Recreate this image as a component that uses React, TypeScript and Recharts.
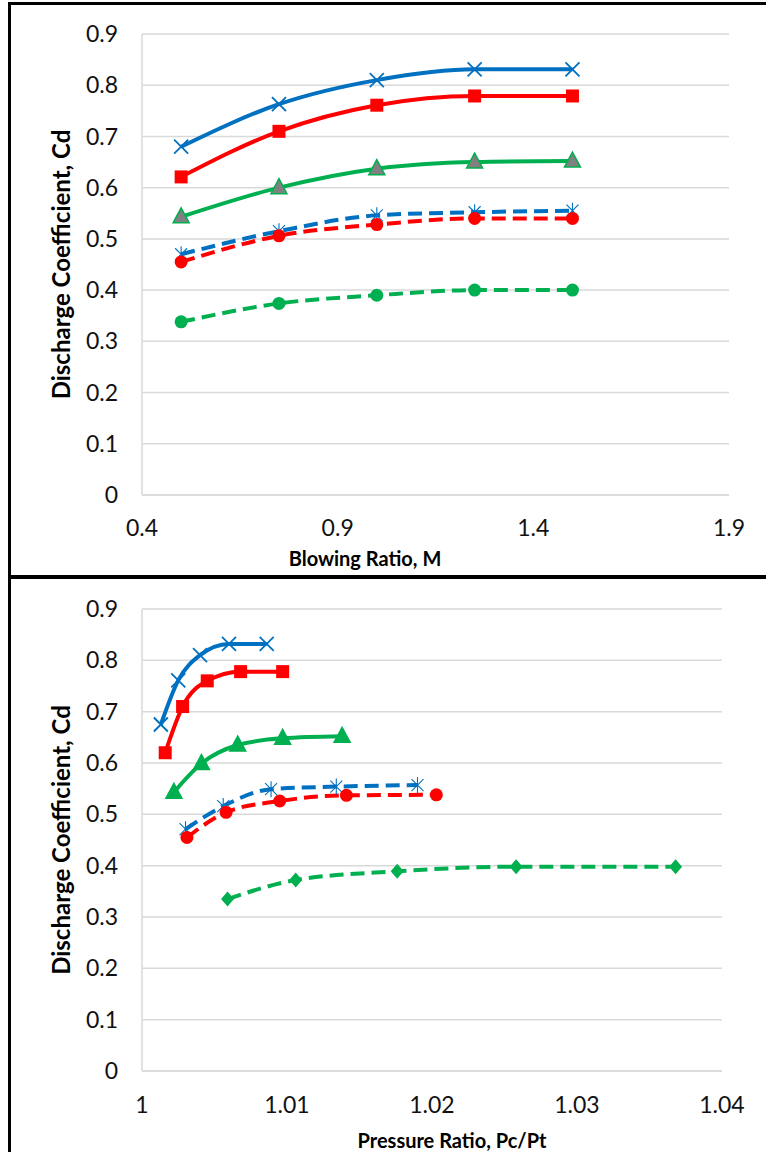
import React from 'react';
import { LineChart, Line, XAxis, YAxis, CartesianGrid, Label } from 'recharts';

// top panel: Cd vs blowing ratio
const blowingRatio = [0.5, 0.75, 1.0, 1.25, 1.5];
const mBlueSolid = [0.68, 0.763, 0.81, 0.831, 0.831];
const mRedSolid = [0.621, 0.71, 0.761, 0.779, 0.779];
const mGreenSolid = [0.543, 0.6, 0.637, 0.65, 0.652];
const mBlueDashed = [0.47, 0.515, 0.546, 0.552, 0.555];
const mRedDashed = [0.455, 0.506, 0.528, 0.54, 0.54];
const mGreenDashed = [0.338, 0.374, 0.39, 0.4, 0.4];

// bottom panel: Cd vs pressure ratio (each series has its own x values)
const prBlueSolid = [1.0013, 1.0025, 1.004, 1.006, 1.0086];
const cdBlueSolid = [0.675, 0.761, 0.81, 0.832, 0.832];
const prRedSolid = [1.0016, 1.0028, 1.0045, 1.0068, 1.0097];
const cdRedSolid = [0.62, 0.71, 0.76, 0.778, 0.778];
const prGreenSolid = [1.0022, 1.0041, 1.0066, 1.0097, 1.0138];
const cdGreenSolid = [0.543, 0.599, 0.635, 0.648, 0.652];
const prBlueDashed = [1.003, 1.0056, 1.0089, 1.0134, 1.019];
const cdBlueDashed = [0.471, 0.516, 0.549, 0.554, 0.557];
const prRedDashed = [1.0031, 1.0058, 1.0095, 1.0141, 1.0203];
const cdRedDashed = [0.455, 0.504, 0.526, 0.537, 0.538];
const prGreenDashed = [1.0059, 1.0106, 1.0176, 1.0258, 1.0368];
const cdGreenDashed = [0.335, 0.372, 0.389, 0.398, 0.398];

const cdTicks = [0, 0.1, 0.2, 0.3, 0.4, 0.5, 0.6, 0.7, 0.8, 0.9];
const mTicks = [0.4, 0.9, 1.4, 1.9];
const prTicks = [1, 1.01, 1.02, 1.03, 1.04];

const BLUE = '#0070C0';
const RED = '#FF0000';
const GREEN = '#00B050';
const GRID = '#d9d9d9';
const FONT = 'Lato, "Noto Sans", sans-serif';

const pts = (xs: number[], ys: number[]) => xs.map((x, i) => ({ x, cd: ys[i] }));

const XMark = ({ cx, cy }: any) => (
  <g stroke={BLUE} strokeWidth={1.8}>
    <line x1={cx - 7} y1={cy - 7} x2={cx + 7} y2={cy + 7} />
    <line x1={cx - 7} y1={cy + 7} x2={cx + 7} y2={cy - 7} />
  </g>
);
const Star = ({ cx, cy }: any) => (
  <g stroke={BLUE} strokeWidth={1.1}>
    <line x1={cx - 6} y1={cy - 6} x2={cx + 6} y2={cy + 6} />
    <line x1={cx - 6} y1={cy + 6} x2={cx + 6} y2={cy - 6} />
    <line x1={cx} y1={cy - 8} x2={cx} y2={cy + 8} />
  </g>
);
const Square = ({ cx, cy }: any) => <rect x={cx - 6.5} y={cy - 6.5} width={13} height={13} fill={RED} />;
const Tri = ({ cx, cy, fill }: any) => (
  <polygon
    points={`${cx},${cy - 9} ${cx + 8},${cy + 6} ${cx - 8},${cy + 6}`}
    fill={fill}
    stroke={GREEN}
    strokeWidth={1.5}
  />
);
const Dot = ({ cx, cy, fill }: any) => <circle cx={cx} cy={cy} r={6.5} fill={fill} />;
const Diamond = ({ cx, cy }: any) => (
  <polygon points={`${cx},${cy - 7.5} ${cx + 6.5},${cy} ${cx},${cy + 7.5} ${cx - 6.5},${cy}`} fill={GREEN} />
);

const tickStyle = { fontSize: 23, fill: '#111', fontFamily: FONT };

const yLabel = (
  <Label
    value="Discharge Coefficient, Cd"
    angle={-90}
    position="insideLeft"
    offset={61}
    style={{ textAnchor: 'middle', fontSize: 24, fontWeight: 700, fill: '#000', fontFamily: FONT }}
  />
);

const xTitle = (text: string, x: number, y: number) => (
  <Label
    content={() => (
      <text x={x} y={y} textAnchor="middle" fontSize={20} fontWeight={700} fill="#000" fontFamily={FONT}>
        {text}
      </text>
    )}
  />
);

type Series = { data: { x: number; cd: number }[]; color: string; dashed?: boolean; mark: (p: any) => React.ReactElement };

const renderLines = (series: Series[]) =>
  series.map((s, i) => (
    <Line
      key={i}
      data={s.data}
      dataKey="cd"
      type="monotone"
      stroke={s.color}
      strokeWidth={4}
      strokeDasharray={s.dashed ? '14 7' : undefined}
      dot={(p: any) => <g key={p.index}>{s.mark(p)}</g>}
      isAnimationActive={false}
    />
  ));

const topSeries: Series[] = [
  { data: pts(blowingRatio, mBlueSolid), color: BLUE, mark: (p) => <XMark {...p} /> },
  { data: pts(blowingRatio, mRedSolid), color: RED, mark: (p) => <Square {...p} /> },
  { data: pts(blowingRatio, mGreenSolid), color: GREEN, mark: (p) => <Tri cx={p.cx} cy={p.cy} fill="#808080" /> },
  { data: pts(blowingRatio, mBlueDashed), color: BLUE, dashed: true, mark: (p) => <Star {...p} /> },
  { data: pts(blowingRatio, mRedDashed), color: RED, dashed: true, mark: (p) => <Dot cx={p.cx} cy={p.cy} fill={RED} /> },
  { data: pts(blowingRatio, mGreenDashed), color: GREEN, dashed: true, mark: (p) => <Dot cx={p.cx} cy={p.cy} fill={GREEN} /> },
];

const bottomSeries: Series[] = [
  { data: pts(prBlueSolid, cdBlueSolid), color: BLUE, mark: (p) => <XMark {...p} /> },
  { data: pts(prRedSolid, cdRedSolid), color: RED, mark: (p) => <Square {...p} /> },
  { data: pts(prGreenSolid, cdGreenSolid), color: GREEN, mark: (p) => <Tri cx={p.cx} cy={p.cy} fill={GREEN} /> },
  { data: pts(prBlueDashed, cdBlueDashed), color: BLUE, dashed: true, mark: (p) => <Star {...p} /> },
  { data: pts(prRedDashed, cdRedDashed), color: RED, dashed: true, mark: (p) => <Dot cx={p.cx} cy={p.cy} fill={RED} /> },
  { data: pts(prGreenDashed, cdGreenDashed), color: GREEN, dashed: true, mark: (p) => <Diamond {...p} /> },
];

const fmtY = (v: number) => (v === 0 ? '0' : v.toFixed(1));

export default function App() {
  return (
    <div style={{ position: 'absolute', left: 0, top: 0, width: 766, height: 1152, overflow: 'hidden', background: '#fff' }}>
      <div style={{ position: 'absolute', left: 8, top: 2, width: 800, height: 570, border: '3px solid #000' }} />
      <div style={{ position: 'absolute', left: 8, top: 576, width: 800, height: 600, border: '3px solid #000' }} />

      <div style={{ position: 'absolute', left: 0, top: 0 }}>
        <LineChart width={766} height={577} margin={{ top: 34, right: 37, left: 0, bottom: 22 }}>
          <CartesianGrid horizontal vertical={false} stroke={GRID} strokeWidth={1.5} />
          <XAxis
            dataKey="x"
            type="number"
            domain={[0.4, 1.9]}
            ticks={mTicks}
            tickFormatter={(v: number) => v.toFixed(1)}
            tick={tickStyle}
            tickLine={false}
            tickSize={0}
            tickMargin={25}
            axisLine={{ stroke: GRID, strokeWidth: 1.5 }}
            height={60}
            allowDataOverflow
          >
            {xTitle('Blowing Ratio, M', 365, 566)}
          </XAxis>
          <YAxis
            type="number"
            domain={[0, 0.9]}
            ticks={cdTicks}
            tickFormatter={fmtY}
            tick={tickStyle}
            tickLine={false}
            tickSize={0}
            tickMargin={24}
            axisLine={{ stroke: GRID, strokeWidth: 1.5 }}
            width={142}
          >
            {yLabel}
          </YAxis>
          {renderLines(topSeries)}
        </LineChart>
      </div>

      <div style={{ position: 'absolute', left: 0, top: 575 }}>
        <LineChart width={766} height={577} margin={{ top: 34, right: 44, left: 0, bottom: 21 }}>
          <CartesianGrid horizontal vertical={false} stroke={GRID} strokeWidth={1.5} />
          <XAxis
            dataKey="x"
            type="number"
            domain={[1, 1.04]}
            ticks={prTicks}
            tickFormatter={(v: number) => String(Number(v.toFixed(2)))}
            tick={tickStyle}
            tickLine={false}
            tickSize={0}
            tickMargin={26}
            axisLine={{ stroke: GRID, strokeWidth: 1.5 }}
            height={60}
            allowDataOverflow
          >
            {xTitle('Pressure Ratio,  Pc/Pt', 452, 573)}
          </XAxis>
          <YAxis
            type="number"
            domain={[0, 0.9]}
            ticks={cdTicks}
            tickFormatter={fmtY}
            tick={tickStyle}
            tickLine={false}
            tickSize={0}
            tickMargin={24}
            axisLine={{ stroke: GRID, strokeWidth: 1.5 }}
            width={142}
          >
            {yLabel}
          </YAxis>
          {renderLines(bottomSeries)}
        </LineChart>
      </div>
    </div>
  );
}
